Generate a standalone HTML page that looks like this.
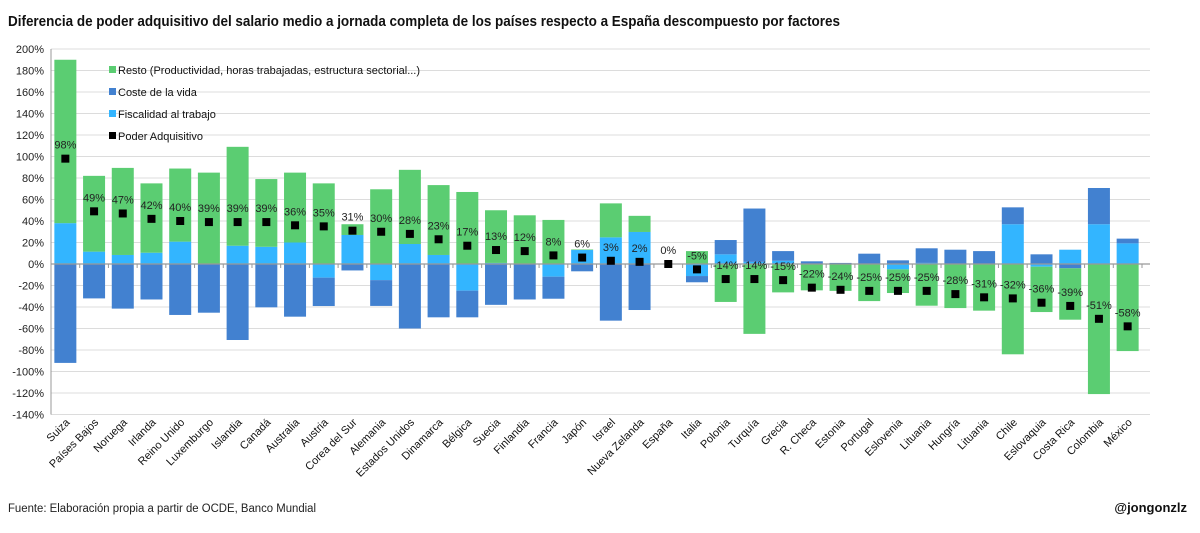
<!DOCTYPE html>
<html><head><meta charset="utf-8">
<style>
body{margin:0;background:#fff;font-family:"Liberation Sans",sans-serif;}
#wrap{position:relative;width:1200px;height:533px;overflow:hidden;}
</style></head>
<body>
<div id="wrap">
<svg id="chart" width="1200" height="533">
<text x="8" y="26" font-size="14.5" font-weight="bold" fill="#111" textLength="832" lengthAdjust="spacingAndGlyphs">Diferencia de poder adquisitivo del salario medio a jornada completa de los países respecto a España descompuesto por factores</text>
<text x="8" y="512" font-size="11.5" fill="#222" textLength="308" lengthAdjust="spacingAndGlyphs">Fuente: Elaboración propia a partir de OCDE, Banco Mundial</text>
<text x="1187" y="512" font-size="13" font-weight="bold" fill="#111" text-anchor="end">@jongonzlz</text>
<g id="grid"></g>
<g id="bars"></g>
<g id="axes"></g>
<g id="points"></g>
<g id="legend"></g>
</svg>
</div>
<script>
const countries=["Suiza","Países Bajos","Noruega","Irlanda","Reino Unido","Luxemburgo","Islandia","Canadá","Australia","Austria","Corea del Sur","Alemania","Estados Unidos","Dinamarca","Bélgica","Suecia","Finlandia","Francia","Japón","Israel","Nueva Zelanda","España","Italia","Polonia","Turquía","Grecia","R. Checa","Estonia","Portugal","Eslovenia","Lituania","Hungría","Lituania","Chile","Eslovaquia","Costa Rica","Colombia","México"];
const fiscalidad=[38,11.5,8.4,10.5,20.8,0,17,16,20,-12.7,27,-15,18.6,8.4,-24.8,1,0,-11.8,13,24.8,29.8,0,-11.2,9,2,3,0,0,0,-5,1,0,0,37,-2.5,13.3,37,19.2];
const coste=[-92,-32,-41.5,-33,-47.4,-45.3,-70.7,-40.3,-49,-26.4,-6,-24,-60,-49.6,-24.8,-38,-33,-20.5,-6.8,-52.7,-42.8,0,-5.8,13.3,49.6,9,2.5,1,9.6,3.4,13.6,13.3,12,15.7,9,-4,33.7,4.4];
const resto=[152,70.5,81,64.5,68,85,92,63,65,75,10,69.5,69,65,67,49,45.3,41,0.5,31.6,15,0,12,-35.3,-65,-26.4,-24.5,-25,-34.5,-22,-38.8,-41,-43.4,-84,-42.2,-47.8,-121,-81];
const poder=[98,49,47,42,40,39,39,39,36,35,31,30,28,23,17,13,12,8,6,3,2,0,-5,-14,-14,-15,-22,-24,-25,-25,-25,-28,-31,-32,-36,-39,-51,-58];
const yTicks=[200,180,160,140,120,100,80,60,40,20,0,-20,-40,-60,-80,-100,-120,-140];
const legendLabels=["Resto (Productividad, horas trabajadas, estructura sectorial...)","Coste de la vida","Fiscalidad al trabajo","Poder Adquisitivo"];

const NS="http://www.w3.org/2000/svg";
const X0=51,X1=1142,Y0=264,PX=1.075;
const step=(X1-X0)/countries.length,BW=22;
const y=v=>Y0-v*PX;
const xc=i=>X0+step*(i+0.5);
const C={f:"#33b5ff",c:"#4281d0",r:"#5bcd72"};
function mk(tag,attrs,parent){const e=document.createElementNS(NS,tag);for(const k in attrs)e.setAttribute(k,attrs[k]);parent.appendChild(e);return e;}
const grid=document.getElementById('grid'),axes=document.getElementById('axes'),bars=document.getElementById('bars'),pts=document.getElementById('points'),leg=document.getElementById('legend');

yTicks.forEach(t=>{
  const l=mk('line',{x1:X0,x2:1150,y1:y(t),y2:y(t),stroke:t===0?'#999':'#dcdcdc','stroke-width':t===0?1.3:1},t===0?axes:grid);
  
  
  const tx=mk('text',{x:X0-7,y:y(t)+4,'font-size':11,'text-anchor':'end',fill:'#222'},axes);
  tx.textContent=t+'%';
  
  
});
const ya=mk('line',{x1:X0,x2:X0,y1:y(200),y2:y(-140),stroke:'#999'},axes);



countries.forEach((name,i)=>{
  let pos=0,neg=0;
  [[fiscalidad[i],C.f,'fiscalidad'],[coste[i],C.c,'coste'],[resto[i],C.r,'resto']].forEach(([v,col,nm])=>{
    if(!v)return;
    let a,b;
    if(v>0){a=pos;b=pos+v;pos=b;}else{a=neg;b=neg+v;neg=b;}
    const top=y(Math.max(a,b)),h=Math.abs(v)*PX;
    const r=mk('rect',{x:xc(i)-BW/2,y:top,width:BW,height:h,fill:col},bars);
    
    
  });
  const tk=mk('line',{x1:X0+step*(i+1),x2:X0+step*(i+1),y1:Y0,y2:Y0+4,stroke:'#999'},axes);
  
  
  const lx=xc(i)+5,ly=423;
  const t=mk('text',{x:lx,y:ly,'font-size':11,'text-anchor':'end',fill:'#111',transform:`rotate(-45 ${lx} ${ly})`},axes);
  t.textContent=name;
  
  
  const m=mk('rect',{x:xc(i)-4,y:y(poder[i])-4,width:8,height:8,fill:'#000'},pts);
  
  
  const vl=mk('text',{x:xc(i),y:y(poder[i])-10,'font-size':11,'text-anchor':'middle',fill:'#222'},pts);
  vl.textContent=poder[i]+'%';
  
  
});

[C.r,C.c,C.f,'#000'].forEach((col,k)=>{
  const yy=70+k*22;
  const s=mk('rect',{x:109,y:yy-4,width:7,height:7,fill:col},leg);
  
  
  const t=mk('text',{x:118,y:yy+4,'font-size':11,fill:'#111'},leg);
  t.textContent=legendLabels[k];
  
  
});
</script>
</body></html>
